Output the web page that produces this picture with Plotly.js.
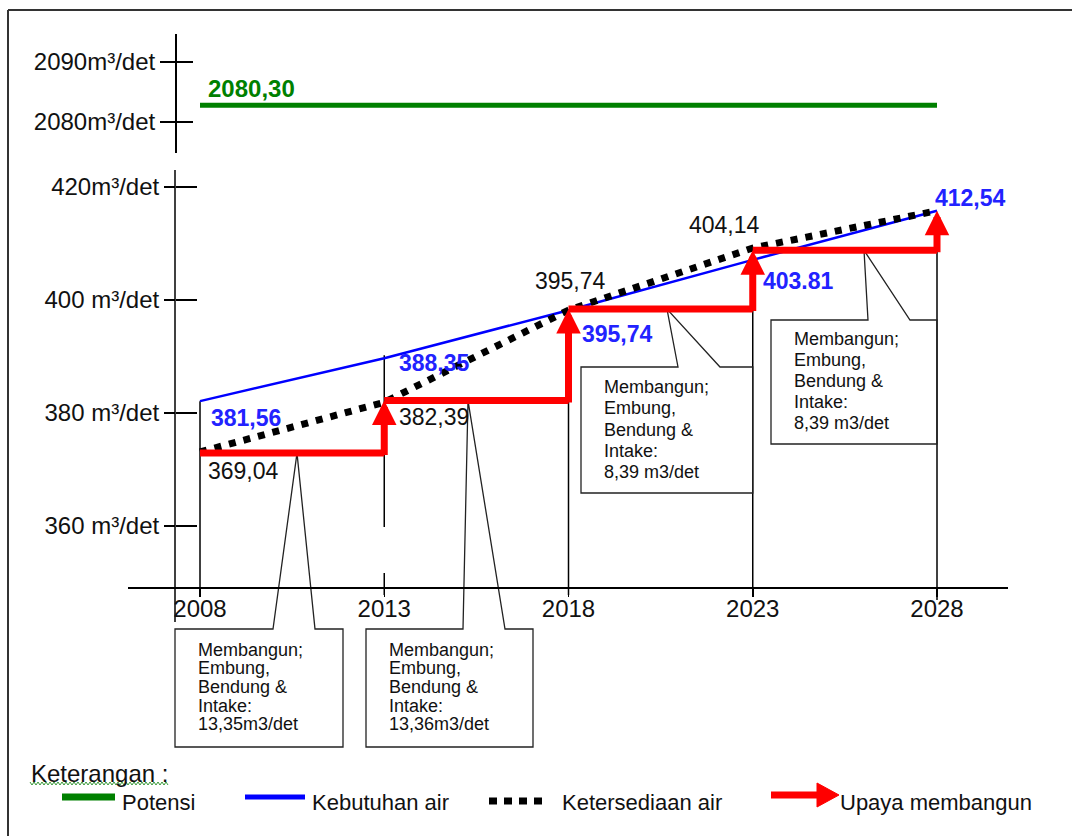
<!DOCTYPE html>
<html><head><meta charset="utf-8">
<script src="https://cdn.plot.ly/plotly-3.0.1.min.js"></script>
<style>html,body{margin:0;padding:0;background:#fff}#chart{width:1072px;height:836px}</style>
</head><body><div id="chart"></div>
<script>
// ---------------- data ----------------
const years = [2008, 2013, 2018, 2023, 2028];
const kebutuhan = [382.1, 389.7, 398.2, 407.1, 415.8];          // blue line
const kebutuhanLabels = ['381,56', '388,35', '395,74', '403.81', '412,54'];
const ketersediaan = [373.1, 381.9, 398.2, 409.2, 415.8];       // dotted line
const ketersediaanLabels = ['369,04', '382,39', '395,74', '404,14'];
const upayaLevels = [372.9, 382.2, 398.4, 408.8, 415.8];        // red step levels / arrow tips
const potensiYears = [2008, 2028];
const potensi = [2082.8, 2082.8];
const potensiLabel = '2080,30';
const lowerTickVals = [360, 380, 400, 420];
const lowerTickText = ['360 m³/det', '380 m³/det', '400 m³/det', '420m³/det'];
const upperTickVals = [2080, 2090];
const upperTickText = ['2080m³/det', '2090m³/det'];
const calloutTexts = [
  ['Membangun;', 'Embung,', 'Bendung &', 'Intake:', '13,35m3/det'],
  ['Membangun;', 'Embung,', 'Bendung &', 'Intake:', '13,36m3/det'],
  ['Membangun;', 'Embung,', 'Bendung &', 'Intake:', '8,39 m3/det'],
  ['Membangun;', 'Embung,', 'Bendung &', 'Intake:', '8,39 m3/det']
];
const legendTitle = 'Keterangan :';
const legendNames = ['Potensi', 'Kebutuhan air', 'Ketersediaan air', 'Upaya membangun'];

// ---------------- geometry helpers (layout only) ----------------
const W = 1072, H = 836;
const FONT = '"Liberation Sans", Arial, sans-serif';
const px2x = p => 2008 + (p - 200) / 36.85;
const px2y = p => 400 + (300 - p) / 5.65;
const px2y2 = p => 2080 + (122 - p) / 6;
const P = p => p / W;
const Q = p => 1 - p / H;
const AXIS_X = 175;

const GREEN = '#008000', BLUE = '#0000ff', RED = '#ff0000', INK = '#111111';

// ---------------- traces ----------------
const redX = [], redY = [];
for (let i = 0; i < years.length - 1; i++) {
  redX.push(years[i], years[i + 1], null);
  redY.push(upayaLevels[i], upayaLevels[i], null);
}
const traces = [
  {x: potensiYears, y: potensi, xaxis: 'x', yaxis: 'y2', mode: 'lines', name: legendNames[0],
   line: {color: GREEN, width: 5}, hoverinfo: 'skip'},
  {x: years, y: kebutuhan, mode: 'lines', name: legendNames[1],
   line: {color: BLUE, width: 2.5}, hoverinfo: 'skip'},
  {x: years, y: ketersediaan, mode: 'lines', name: legendNames[2],
   line: {color: '#000', width: 7, dash: '7px,8px'}, hoverinfo: 'skip'},
  {x: redX, y: redY, mode: 'lines', name: legendNames[3], connectgaps: false,
   line: {color: RED, width: 7}, hoverinfo: 'skip'}
];

// ---------------- shapes ----------------
const shapes = [];
const blk = {color: '#000', width: 1.5};
// lower y axis line
shapes.push({type: 'line', xref: 'x', yref: 'y', x0: px2x(AXIS_X), x1: px2x(AXIS_X),
  y0: px2y(170), y1: px2y(622), line: blk, layer: 'below'});
// drop lines
const dropBottom = px2y(595);
shapes.push({type: 'line', xref: 'x', yref: 'y', x0: years[0], x1: years[0], y0: kebutuhan[0], y1: dropBottom, line: blk, layer: 'below'});
shapes.push({type: 'line', xref: 'x', yref: 'y', x0: years[1], x1: years[1], y0: kebutuhan[1] + 0.5, y1: px2y(527), line: blk, layer: 'below'});
shapes.push({type: 'line', xref: 'x', yref: 'y', x0: years[1], x1: years[1], y0: px2y(573), y1: dropBottom, line: blk, layer: 'below'});
shapes.push({type: 'line', xref: 'x', yref: 'y', x0: years[2], x1: years[2], y0: upayaLevels[1], y1: dropBottom, line: blk, layer: 'below'});
shapes.push({type: 'line', xref: 'x', yref: 'y', x0: years[3], x1: years[3], y0: upayaLevels[2], y1: dropBottom, line: blk, layer: 'below'});
shapes.push({type: 'line', xref: 'x', yref: 'y', x0: years[4], x1: years[4], y0: upayaLevels[3], y1: px2y(600), line: blk, layer: 'below'});

// callout boxes
function boxPath(l, r, t, b, pl, ax, ay, pr) {
  return `M${l},${t} L${pl},${t} L${ax},${ay} L${pr},${t} L${r},${t} L${r},${b} L${l},${b} Z`;
}
const boxes = [
  boxPath(px2x(175), px2x(343), px2y(629), px2y(747), px2x(273), px2x(297), upayaLevels[0], px2x(315)),
  boxPath(px2x(366), px2x(533), px2y(629), px2y(747), px2x(463), px2x(468), upayaLevels[1], px2x(505)),
  boxPath(px2x(581), years[3], px2y(367), px2y(493), px2x(678), px2x(667), upayaLevels[2], px2x(720)),
  boxPath(px2x(771), years[4], px2y(320), px2y(444), px2x(868), px2x(864), upayaLevels[3], px2x(910))
];
boxes.forEach(d => shapes.push({type: 'path', xref: 'x', yref: 'y', path: d,
  line: {color: '#222', width: 1.3}, fillcolor: 'rgba(0,0,0,0)', layer: 'below'}));

// frame
shapes.push({type: 'line', xref: 'paper', yref: 'paper', x0: P(8), x1: P(8), y0: Q(10), y1: 0, line: {color: '#333', width: 2}});
shapes.push({type: 'line', xref: 'paper', yref: 'paper', x0: P(8), x1: 1, y0: Q(10), y1: Q(10), line: {color: '#333', width: 2}});

// legend swatches
shapes.push({type: 'line', xref: 'paper', yref: 'paper', x0: P(62), x1: P(115), y0: Q(797), y1: Q(797), line: {color: GREEN, width: 7}});
shapes.push({type: 'line', xref: 'paper', yref: 'paper', x0: P(245), x1: P(305), y0: Q(797), y1: Q(797), line: {color: BLUE, width: 5}});
shapes.push({type: 'line', xref: 'paper', yref: 'paper', x0: P(489), x1: P(545), y0: Q(801), y1: Q(801), line: {color: '#000', width: 7, dash: '8px,7px'}});
shapes.push({type: 'line', xref: 'paper', yref: 'paper', x0: P(771), x1: P(820), y0: Q(795), y1: Q(795), line: {color: RED, width: 7}});
shapes.push({type: 'path', xref: 'paper', yref: 'paper',
  path: `M${P(817)},${Q(783)} L${P(839)},${Q(795)} L${P(817)},${Q(807)} Z`, fillcolor: RED, line: {color: RED, width: 1}});
// wavy spell-check underline
let wav = `M${P(30)},${Q(782)}`;
for (let x = 32, k = 1; x <= 169; x += 2, k++) wav += ` L${P(x)},${Q(k % 2 ? 785 : 782)}`;
shapes.push({type: 'path', xref: 'paper', yref: 'paper', path: wav, line: {color: '#3a9a3a', width: 1}});

// ---------------- annotations ----------------
const ann = [];
ann.push({xref: 'x', yref: 'y2', x: potensiYears[0], y: potensi[0], text: '<b>' + potensiLabel + '</b>',
  showarrow: false, xanchor: 'left', yanchor: 'middle', xshift: 6, yshift: 17,
  font: {family: FONT, size: 24, color: GREEN}});
const kebOff = [[9, 17], [13, 5], [11, 24], [8, 21], [-4, -13]];
kebutuhanLabels.forEach((t, i) => ann.push({xref: 'x', yref: 'y', x: years[i], y: kebutuhan[i],
  text: '<b>' + t + '</b>', showarrow: false, xanchor: 'left', yanchor: 'middle',
  xshift: kebOff[i][0], yshift: -kebOff[i][1], font: {family: FONT, size: 23, color: '#2222ff'}}));
const ketOff = [[6, 19], [13, 15], [-36, -29], [-66, -23]];
ketersediaanLabels.forEach((t, i) => ann.push({xref: 'x', yref: 'y', x: years[i], y: ketersediaan[i],
  text: t, showarrow: false, xanchor: 'left', yanchor: 'middle',
  xshift: ketOff[i][0], yshift: -ketOff[i][1], font: {family: FONT, size: 23, color: INK}}));
// red arrows (Upaya membangun)
const tail = 3.5 / 5.65;
for (let i = 1; i < years.length; i++) {
  ann.push({xref: 'x', yref: 'y', axref: 'x', ayref: 'y', x: years[i], y: upayaLevels[i],
    ax: years[i], ay: upayaLevels[i - 1] - tail, text: '', showarrow: true,
    arrowhead: 2, arrowsize: 0.7, arrowwidth: 7, arrowcolor: RED, standoff: 0});
}
// callout texts
const calloutPos = [[196, [650, 668, 687, 706, 724]], [387, [650, 668, 687, 706, 724]],
                    [602, [387, 408, 430, 451, 472]], [792, [339, 360, 381, 402, 423]]];
calloutTexts.forEach((lines, b) => lines.forEach((t, j) => ann.push({xref: 'paper', yref: 'paper',
  x: P(calloutPos[b][0]), y: Q(calloutPos[b][1][j]), text: t, showarrow: false,
  xanchor: 'left', yanchor: 'middle', font: {family: FONT, size: 18, color: INK}})));
// legend texts
ann.push({xref: 'paper', yref: 'paper', x: P(29), y: Q(773), text: legendTitle, showarrow: false,
  xanchor: 'left', yanchor: 'middle', font: {family: FONT, size: 24, color: INK}});
[[120, 0], [310, 1], [560, 2], [838, 3]].forEach(([px, i]) => ann.push({xref: 'paper', yref: 'paper',
  x: P(px), y: Q(802), text: legendNames[i], showarrow: false, xanchor: 'left', yanchor: 'middle',
  font: {family: FONT, size: 22, color: INK}}));

// ---------------- layout ----------------
const tickFont = {family: FONT, size: 24, color: INK};
const layout = {
  width: W, height: H, margin: {l: 0, r: 0, t: 0, b: 0},
  paper_bgcolor: '#fff', plot_bgcolor: 'rgba(0,0,0,0)', showlegend: false,
  xaxis: {domain: [P(128), P(1008)], range: [px2x(128), px2x(1008)], anchor: 'free', position: Q(587),
    showline: true, linecolor: '#000', linewidth: 1.5, ticks: 'outside', ticklen: 8, tickwidth: 1.5, tickcolor: '#000',
    ticklabelstandoff: -8,
    tickvals: years, ticktext: years.map(String), tickfont: {family: FONT, size: 24, color: INK},
    showgrid: false, zeroline: false, fixedrange: true},
  yaxis: {domain: [0, Q(168)], range: [px2y(836), px2y(168)], anchor: 'free', position: P(AXIS_X),
    showline: false, ticks: 'outside', ticklen: 11, tickwidth: 1.5, tickcolor: '#000',
    tickvals: lowerTickVals, ticktext: lowerTickText, tickfont: tickFont,
    showgrid: false, zeroline: false, fixedrange: true},
  yaxis4: {overlaying: 'y', anchor: 'free', position: P(AXIS_X), range: [px2y(836), px2y(168)],
    showline: false, ticks: 'inside', ticklen: 21, tickwidth: 1.5, tickcolor: '#000',
    tickvals: lowerTickVals, showticklabels: false, showgrid: false, zeroline: false, fixedrange: true},
  yaxis2: {domain: [Q(153), Q(34)], range: [px2y2(153), px2y2(34)], anchor: 'free', position: P(AXIS_X),
    showline: true, linecolor: '#000', linewidth: 1.5, ticks: 'outside', ticklen: 15, tickwidth: 1.5, tickcolor: '#000',
    tickvals: upperTickVals, ticktext: upperTickText, tickfont: tickFont,
    showgrid: false, zeroline: false, fixedrange: true},
  yaxis3: {overlaying: 'y2', anchor: 'free', position: P(AXIS_X), range: [px2y2(153), px2y2(34)],
    showline: false, ticks: 'inside', ticklen: 17, tickwidth: 1.5, tickcolor: '#000',
    tickvals: upperTickVals, showticklabels: false, showgrid: false, zeroline: false, fixedrange: true},
  shapes: shapes, annotations: ann
};
// invisible anchor traces so the overlay tick axes render
traces.push({x: [years[0]], y: [lowerTickVals[0]], yaxis: 'y4', mode: 'markers', marker: {opacity: 0}, hoverinfo: 'skip', showlegend: false});
traces.push({x: [years[0]], y: [upperTickVals[0]], yaxis: 'y3', mode: 'markers', marker: {opacity: 0}, hoverinfo: 'skip', showlegend: false});

Plotly.newPlot('chart', traces, layout, {staticPlot: true, displayModeBar: false});
</script></body></html>
